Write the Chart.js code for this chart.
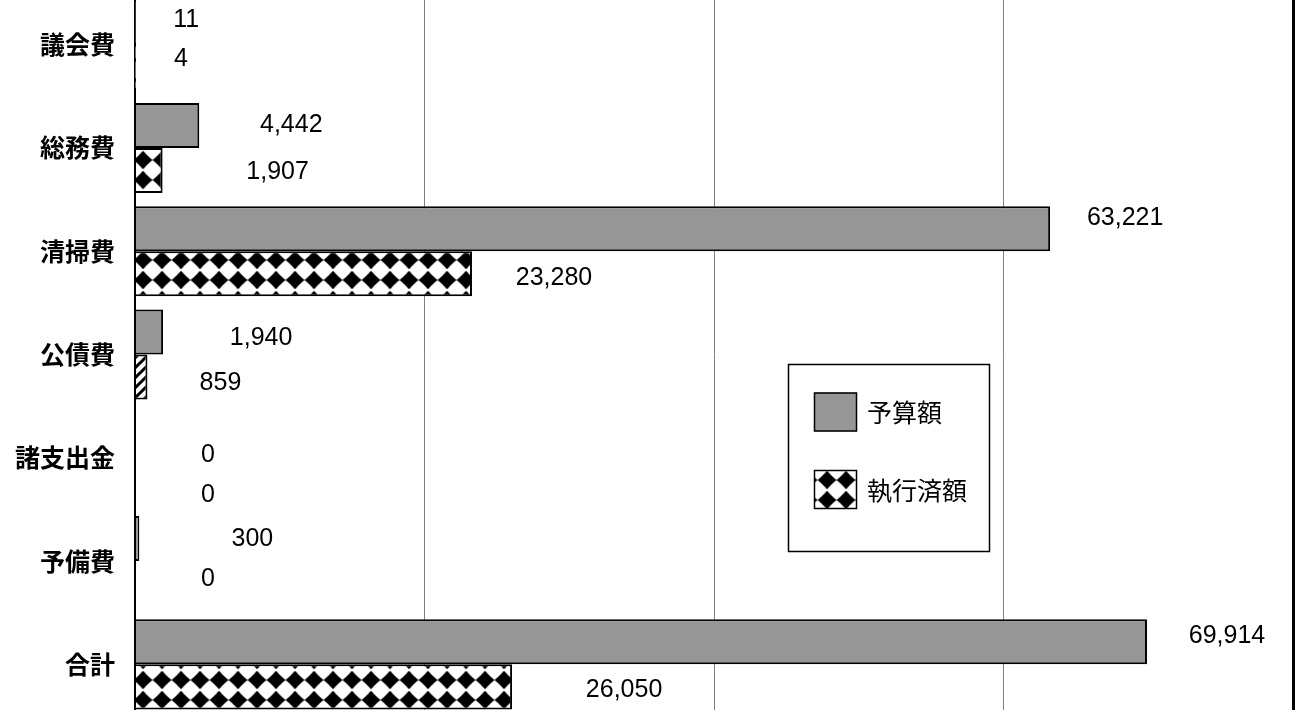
<!DOCTYPE html>
<html><head><meta charset="utf-8">
<script src="https://cdn.jsdelivr.net/npm/chart.js@4/dist/chart.umd.min.js"></script>
<style>
html,body{margin:0;padding:0;background:#fff;overflow:hidden;width:1300px;height:710px;}
#c{position:absolute;left:0;top:-7px;}
</style></head><body>
<canvas id="c" width="1300" height="723"></canvas>
<script>
const categories = ['議会費','総務費','清掃費','公債費','諸支出金','予備費','合計'];
const budget = [11, 4442, 63221, 1940, 0, 300, 69914];
const executed = [4, 1907, 23280, 859, 0, 0, 26050];
const seriesNames = ['予算額','執行済額'];
const xTicks = [0, 20000, 40000, 60000, 80000];

// label placement (offset from bar end / bar centre), styling only
const budgetLabelDx = [51, 92, 75, 98, 73, 113, 80];
const budgetLabelDy = [-2, 0, -11, 6, 20, 1, -6];
const execLabelDx = [46, 115, 82, 73, 73, 73, 112];
const execLabelDy = [-8, 2, 4, 6, 15, -4, 3];

function checkerPattern(){
  const w=19,h=20;
  const c=document.createElement('canvas'); c.width=w; c.height=h;
  const g=c.getContext('2d');
  g.fillStyle='#fff'; g.fillRect(0,0,w,h);
  g.fillStyle='#000';
  const cx=w/2, cy=h/2, rx=w/2, ry=9.2, k=0.45;
  g.beginPath();
  g.moveTo(cx, cy-ry);
  g.quadraticCurveTo(cx+rx*k, cy-ry*k, cx+rx, cy);
  g.quadraticCurveTo(cx+rx*k, cy+ry*k, cx, cy+ry);
  g.quadraticCurveTo(cx-rx*k, cy+ry*k, cx-rx, cy);
  g.quadraticCurveTo(cx-rx*k, cy-ry*k, cx, cy-ry);
  g.fill();
  const p=g.createPattern(c,'repeat');
  p.setTransform(new DOMMatrix().translate(0.5,-3));
  return p;
}
function hatchPattern(){
  const s=10;
  const c=document.createElement('canvas'); c.width=s; c.height=s;
  const g=c.getContext('2d');
  g.fillStyle='#fff'; g.fillRect(0,0,s,s);
  g.strokeStyle='#000'; g.lineWidth=3;
  g.beginPath();
  g.moveTo(-2,s+2); g.lineTo(s+2,-2);
  g.moveTo(-s/2-2,s/2+2); g.lineTo(s/2+2,-s/2-2);
  g.moveTo(s/2-2,s*1.5+2); g.lineTo(s*1.5+2,s/2-2);
  g.stroke();
  return g.createPattern(c,'repeat');
}
const checker = checkerPattern();
const hatch = hatchPattern();
const execFills = executed.map((v,i)=> i===3 ? hatch : checker);

const labelPlugin = {
  id:'valueLabels',
  afterDatasetsDraw(chart){
    const ctx=chart.ctx;
    ctx.save();
    ctx.font='25px "Liberation Sans", Arial, sans-serif';
    ctx.fillStyle='#000';
    ctx.textAlign='center';
    ctx.textBaseline='middle';
    const specs=[[budgetLabelDx,budgetLabelDy],[execLabelDx,execLabelDy]];
    chart.data.datasets.forEach((ds,di)=>{
      const meta=chart.getDatasetMeta(di);
      meta.data.forEach((el,i)=>{
        const txt=Number(ds.data[i]).toLocaleString('en-US');
        ctx.fillText(txt, el.x+specs[di][0][i], el.y+specs[di][1][i]);
      });
    });
    ctx.restore();
  }
};

const legendPlugin = {
  id:'boxLegend',
  afterDraw(chart){
    const ctx=chart.ctx;
    const oy=7;
    ctx.save();
    ctx.strokeStyle='#000'; ctx.lineWidth=1.5;
    ctx.fillStyle='#fff';
    ctx.fillRect(788,364+oy,202,188);
    ctx.strokeRect(788.5,364.5+oy,201,187);
    const rows=[{y:392.5},{y:470}];
    chart.data.datasets.forEach((ds,di)=>{
      const r=rows[di];
      const fill = Array.isArray(ds.backgroundColor)? ds.backgroundColor[0] : ds.backgroundColor;
      ctx.fillStyle=fill;
      ctx.fillRect(814,r.y+oy,43,39);
      ctx.lineWidth=1.5; ctx.strokeStyle='#000';
      ctx.strokeRect(814.5,r.y+oy+0.5,42,38);
      ctx.fillStyle='#000';
      ctx.font='25px "Noto Sans CJK JP", sans-serif';
      ctx.textAlign='left'; ctx.textBaseline='middle';
      ctx.fillText(ds.label, 867, r.y+oy+20);
    });
    ctx.restore();
  }
};

new Chart(document.getElementById('c'),{
  type:'bar',
  data:{
    labels:categories,
    datasets:[
      {label:seriesNames[0], data:budget, backgroundColor:'#969696', borderColor:'#000', borderWidth:2},
      {label:seriesNames[1], data:executed, backgroundColor:execFills, borderColor:'#000', borderWidth:2}
    ]
  },
  options:{
    indexAxis:'y',
    responsive:false,
    animation:false,
    devicePixelRatio:1,
    categoryPercentage:0.872,
    barPercentage:1,
    layout:{padding:{left:0,right:7,top:0,bottom:0}},
    plugins:{legend:{display:false},tooltip:{enabled:false},title:{display:false}},
    scales:{
      x:{
        type:'linear', min:0, max:80000,
        afterBuildTicks(scale){ scale.ticks = xTicks.map(v=>({value:v})); },
        ticks:{display:false},
        grid:{
          drawTicks:false,
          color:(c)=> (c.tick && (c.tick.value===80000||c.tick.value===0)) ? '#000' : '#808080',
          lineWidth:(c)=> (c.tick && c.tick.value===80000) ? 3 : (c.tick && c.tick.value===0 ? 2 : 1)
        },
        border:{display:false},
        afterFit(scale){ scale.paddingLeft=0; scale.paddingRight=0; }
      },
      y:{
        type:'category',
        grid:{display:false, drawTicks:false},
        border:{display:true,color:'#000',width:2},
        ticks:{color:'#000', padding:20, font:{family:'"Noto Sans CJK JP", sans-serif', size:25, weight:'bold'}},
        afterFit(scale){ scale.width=135; scale.paddingTop=0; scale.paddingBottom=0; }
      }
    }
  },
  plugins:[labelPlugin, legendPlugin]
});
</script>
</body></html>
